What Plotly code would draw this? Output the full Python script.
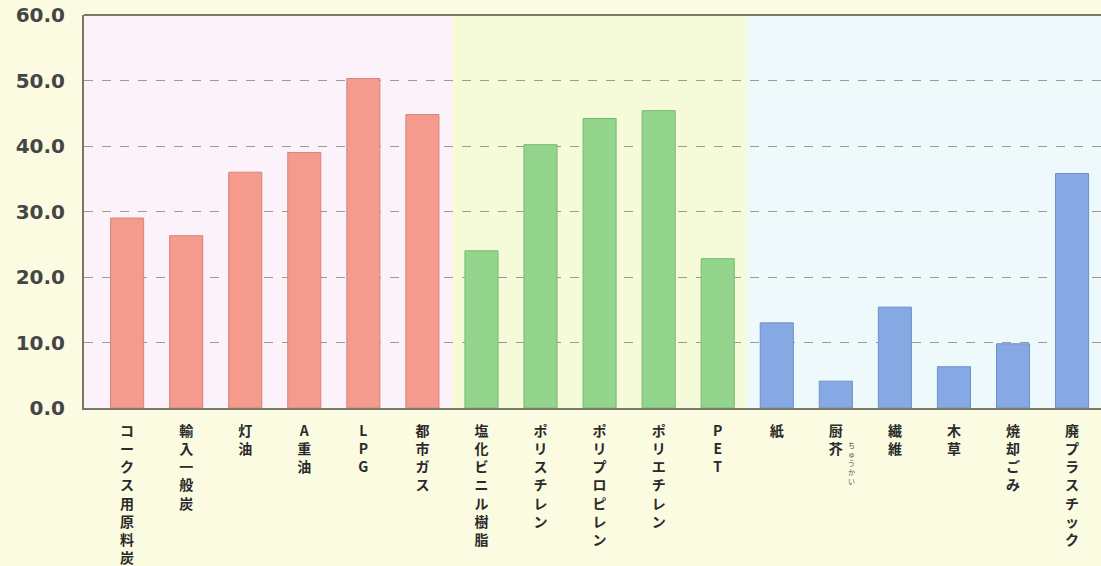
import plotly.graph_objects as go

# 燃料・プラスチック・ごみの発熱量
categories = ["コークス用原料炭", "輸入一般炭", "灯油", "A重油", "LPG", "都市ガス",
              "塩化ビニル樹脂", "ポリスチレン", "ポリプロピレン", "ポリエチレン", "PET",
              "紙", "厨芥", "繊維", "木草", "焼却ごみ", "廃プラスチック"]
fuel_values = [29.0, 26.3, 36.0, 39.0, 50.3, 44.8]
plastic_values = [24.0, 40.2, 44.2, 45.4, 22.8]
waste_values = [13.0, 4.1, 15.4, 6.3, 9.8, 35.8]
y_ticks = [0, 10, 20, 30, 40, 50, 60]

n_fuel = len(fuel_values)
n_plastic = len(plastic_values)
x_all = list(range(len(categories)))
x_fuel = x_all[:n_fuel]
x_plastic = x_all[n_fuel:n_fuel + n_plastic]
x_waste = x_all[n_fuel + n_plastic:]

# 縦書き風ラベル
ticktext = ["<br>".join(list(c)) for c in categories]

fig = go.Figure()
fig.add_bar(x=x_fuel, y=fuel_values, width=0.56,
            marker=dict(color="#f49b8e", line=dict(color="#d9837a", width=1)))
fig.add_bar(x=x_plastic, y=plastic_values, width=0.56,
            marker=dict(color="#93d58c", line=dict(color="#78b873", width=1)))
fig.add_bar(x=x_waste, y=waste_values, width=0.56,
            marker=dict(color="#87a9e3", line=dict(color="#6e8fc9", width=1)))

# 背景の色分け
bands = [(-0.75, n_fuel - 0.5, "#fcf2f9"),
         (n_fuel - 0.5, n_fuel + n_plastic - 0.5, "#f5fbd8"),
         (n_fuel + n_plastic - 0.5, 16.6, "#eef9fc")]
for x0, x1, col in bands:
    fig.add_shape(type="rect", xref="x", yref="paper", x0=x0, x1=x1, y0=0, y1=1,
                  fillcolor=col, line_width=0, layer="below")

# 上の枠線
fig.add_shape(type="line", xref="paper", yref="paper", x0=0, x1=1, y0=1, y1=1,
              line=dict(color="#77776a", width=2))

# 厨芥のルビ
fig.add_annotation(x=12, y=0, xref="x", yref="y", text="ち<br>ゅ<br>う<br>か<br>い",
                   showarrow=False, xshift=16, yshift=-30, yanchor="top",
                   font=dict(size=7, color="#555", family="Noto Sans CJK JP"))

fig.update_layout(
    width=1101, height=566,
    margin=dict(l=84, r=0, t=15, b=158),
    paper_bgcolor="#fbfbe2",
    plot_bgcolor="#fcf2f9",
    showlegend=False,
    bargap=0.4,
)
fig.update_xaxes(
    range=[-0.73, 16.49],
    tickvals=x_all, ticktext=ticktext,
    tickangle=0,
    tickfont=dict(size=14, color="#2a2a2a", family="Noto Sans CJK JP", weight=700),
    ticks="outside", ticklen=9, tickcolor="rgba(0,0,0,0)",
    showline=True, linecolor="#77776a", linewidth=2,
    showgrid=False, automargin=False,
)
fig.update_yaxes(
    range=[0, 60],
    tickvals=y_ticks, tickformat=".1f",
    tickfont=dict(size=20, color="#454545", family="DejaVu Sans", weight=700),
    ticks="outside", ticklen=13, tickcolor="rgba(0,0,0,0)",
    showline=True, linecolor="#77776a", linewidth=2,
    showgrid=True, gridcolor="#9a9a9a", griddash="dash", gridwidth=1,
    zeroline=False, automargin=False,
)

fig.write_html("out.html", config={"displayModeBar": False},
               post_script="document.body.style.margin='0';")
